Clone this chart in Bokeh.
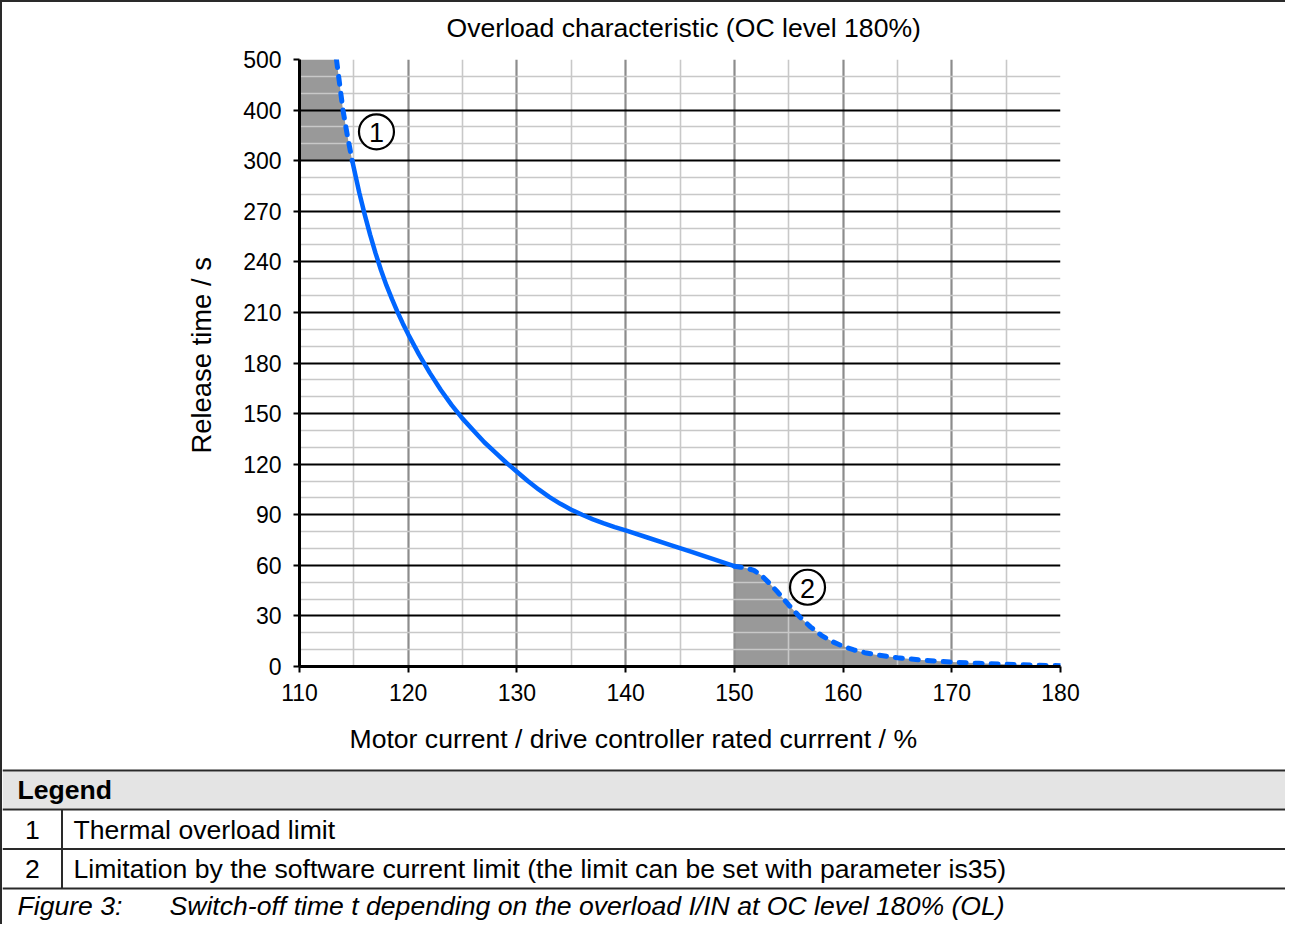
from bokeh.plotting import figure
from bokeh.models import FixedTicker, Title, Range1d
from bokeh.layouts import column
from bokeh.core.properties import value
from bokeh.embed import file_html
from bokeh.resources import INLINE

# ---------------- data ----------------
# thermal overload limit, upper (dashed) part: current %, time s
overload_x = [113.4, 113.7, 114.0, 114.4, 114.85]
overload_t = [500, 450, 400, 350, 300]
# thermal overload characteristic (solid)
thermal_x = [114.85, 115.5, 116, 116.5, 117, 117.5, 118, 118.5, 119, 119.5, 120,
             121, 122, 123, 124, 125, 126, 127, 128, 129, 130,
             131, 132, 133, 134, 135, 136, 137, 138, 139, 140,
             142, 144, 146, 148, 150]
thermal_t = [300, 281, 268, 256, 245, 235, 226, 218, 210.5, 203.5, 197,
             185, 174, 164, 155, 147, 140, 133, 127, 121, 115.5,
             110, 105, 100.5, 96.5, 93, 90, 87.3, 84.9, 82.7, 80.7,
             76.5, 72.3, 68.1, 63.8, 59.5]
# software current limit (dashed)
software_x = [150, 151, 151.8, 152.5, 153.2, 154, 155, 156, 157, 158, 159, 160,
              161, 162, 163, 165, 167.5, 170, 172.5, 175, 177.5, 180]
software_t = [59.5, 58.5, 57, 54, 49.5, 44, 36.5, 29.5, 23.5, 18.5, 14.8, 12,
              9.8, 8.2, 7, 5.2, 3.7, 2.6, 1.9, 1.3, 0.8, 0.5]

x_ticks = [110, 120, 130, 140, 150, 160, 170, 180]
x_minor = [115, 125, 135, 145, 155, 165, 175]
y_tick_values = [0, 30, 60, 90, 120, 150, 180, 210, 240, 270, 300, 400, 500]
y_tick_labels = ["0", "30", "60", "90", "120", "150", "180", "210", "240",
                 "270", "300", "400", "500"]

marker_x = [117.08, 156.73]
marker_t = [357, 47]
marker_text = ["1", "2"]

title_text = "Overload characteristic (OC level 180%)"
x_title = "Motor current / drive controller rated currrent / %"
y_title = "Release time / s"
legend_head = "Legend"
legend_nums = ["1", "2"]
legend_texts = ["Thermal overload limit",
                "Limitation by the software current limit (the limit can be set with parameter is35)"]
caption_num = "Figure 3:"
caption_text = "Switch-off time t depending on the overload I/IN at OC level 180% (OL)"


# piecewise y scale: 0..300 in steps of 30, then 300..500 in steps of 100
def pos(t):
    return t / 30.0 if t <= 300 else 10 + (t - 300) / 100.0


def posl(ts):
    return [pos(t) for t in ts]


FONT = "Liberation Sans"
BLUE = "#0066ff"
GRAY_FILL = "#999999"
LINE = "#2a2a2a"
TXT = "26.6px"

W = 1283          # figure width (page is offset by a 2px css border)
Y_HEAD = 2        # page y where the header strip starts
Y_CHART = 44      # page y where the chart canvas starts
Y_FOOT = 712      # page y where the footer (x label + legend table) starts
Y_END = 924


def strip(y0, y1):
    f = figure(width=W, height=y1 - y0, x_range=Range1d(2, 2 + W), y_range=Range1d(y1, y0),
               output_backend="svg", toolbar_location=None,
               x_axis_type=None, y_axis_type=None, min_border=0)
    f.background_fill_color = "white"
    f.border_fill_color = "white"
    f.outline_line_color = None
    f.xgrid.visible = False
    f.ygrid.visible = False
    f.frame_align = False
    return f


# ---------------- header strip (title) ----------------
h = strip(Y_HEAD, Y_CHART)
h.text(x=[446], y=[27], text=[title_text], text_font=value(FONT), text_font_size=TXT,
       text_baseline="middle", text_color="black")

# ---------------- chart ----------------
p = figure(width=W, height=Y_FOOT - Y_CHART, x_range=(110, 180), y_range=(0, 12),
           output_backend="svg", toolbar_location=None,
           min_border_left=297, min_border_right=W - 297 - 761,
           min_border_top=59 - Y_CHART, min_border_bottom=Y_FOOT - 666)
p.background_fill_color = "white"
p.border_fill_color = "white"
p.outline_line_color = None
p.frame_align = False

p.add_layout(Title(text=y_title, align="left", offset=213, standoff=48,
                   text_font=FONT, text_font_size="27.4px", text_font_style="normal",
                   text_color="black"), "left")

# axes
p.xaxis.ticker = FixedTicker(ticks=x_ticks, minor_ticks=x_minor)
y_pos = posl(y_tick_values)
y_minor = []
for i in range(12):
    y_minor += [i + 1 / 3, i + 2 / 3]
p.yaxis.ticker = FixedTicker(ticks=y_pos, minor_ticks=y_minor)
p.yaxis.major_label_overrides = {yp: lab for yp, lab in zip(y_pos, y_tick_labels)}

for ax in (p.xaxis, p.yaxis):
    ax.axis_line_color = "black"
    ax.axis_line_width = 3
    ax.major_tick_line_color = "black"
    ax.major_tick_line_width = 2
    ax.major_tick_out = 6
    ax.major_tick_in = 0
    ax.minor_tick_out = 0
    ax.minor_tick_in = 0
    ax.major_label_text_font = FONT
    ax.major_label_text_font_size = "23px"
    ax.major_label_text_color = "black"
p.xaxis.major_label_standoff = 11
p.yaxis.major_label_standoff = 12

# grids
p.xgrid.grid_line_color = "#8c8c8c"
p.xgrid.grid_line_width = 2.2
p.xgrid.minor_grid_line_color = "#c8c8c8"
p.xgrid.minor_grid_line_width = 1.6
p.ygrid.grid_line_color = "black"
p.ygrid.grid_line_width = 1.8
p.ygrid.minor_grid_line_color = "#c8c8c8"
p.ygrid.minor_grid_line_width = 1.6

# shaded areas (below grid)
p.patch([110, 110] + overload_x, [pos(300), pos(500)] + posl(overload_t),
        fill_color=GRAY_FILL, line_color=None, level="image")
p.varea(x=software_x, y1=[0] * len(software_x), y2=posl(software_t),
        fill_color=GRAY_FILL, level="image")

# curves
p.line(thermal_x, posl(thermal_t), line_color=BLUE, line_width=4.5,
       line_cap="round", line_join="round")
p.line(overload_x, posl(overload_t), line_color=BLUE, line_width=5,
       line_dash="8 9", line_cap="round")
p.line(software_x, posl(software_t), line_color=BLUE, line_width=5,
       line_dash="7 9", line_cap="round", line_join="round")

# circled numbers
p.scatter(marker_x, posl(marker_t), marker="circle", size=35,
          fill_color="white", line_color="black", line_width=2.2)
p.text(marker_x, posl(marker_t), text=marker_text, text_align="center",
       text_baseline="middle", text_font=value(FONT), text_font_size="27px",
       text_color="black", y_offset=1)

# ---------------- footer: x label + legend table ----------------
t = strip(Y_FOOT, Y_END)
t.text(x=[349], y=[738], text=[x_title], text_font=value(FONT), text_font_size=TXT,
       text_baseline="middle", text_color="black")

# header fill
t.quad(left=[2], right=[2 + W], top=[771], bottom=[808], fill_color="#e4e4e4", line_color=None)
# rule lines
t.quad(left=[2, 2, 2, 2, 60.5], right=[2 + W] * 4 + [62.5],
       top=[769, 808, 847.5, 887, 809], bottom=[771, 810, 849.5, 889, 888],
       fill_color=LINE, line_color=None)

t.text(x=[17], y=[789], text=[legend_head], text_font=value(FONT), text_font_size=TXT,
       text_font_style="bold", text_baseline="middle", text_color="black")
t.text(x=[32, 32], y=[829, 868], text=legend_nums, text_font=value(FONT),
       text_font_size=TXT, text_align="center", text_baseline="middle", text_color="black")
t.text(x=[73, 73], y=[829, 868], text=legend_texts, text_font=value(FONT),
       text_font_size=TXT, text_baseline="middle", text_color="black")
t.text(x=[17, 169], y=[905, 905], text=[caption_num, caption_text], text_font=value(FONT),
       text_font_size=TXT, text_font_style="italic", text_baseline="middle",
       text_color="black")

layout = column(h, p, t, spacing=0,
                styles={"border-left": "2px solid #2a2a2a", "border-top": "2px solid #2a2a2a"})

open("out.html", "w").write(file_html(layout, INLINE))
